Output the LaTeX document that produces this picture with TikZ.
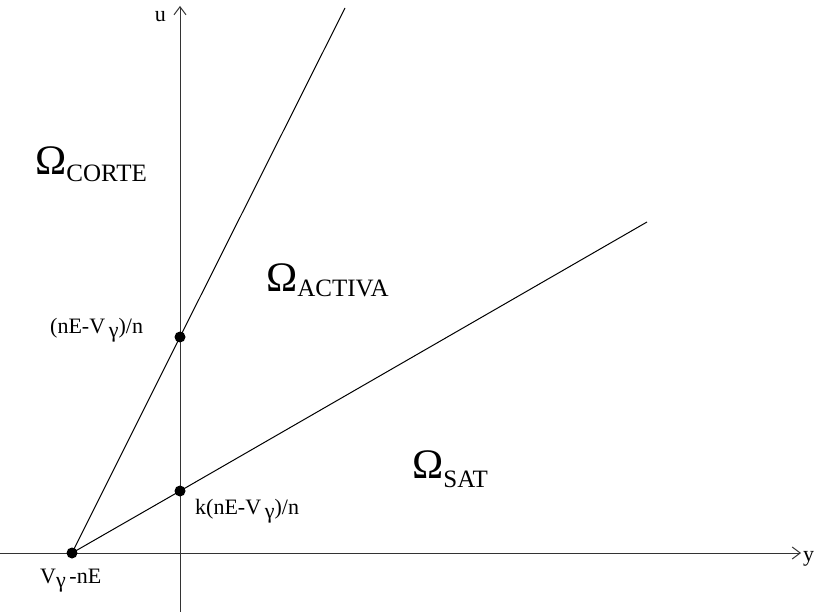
\documentclass[tikz,border=0pt]{standalone}
\usepackage{fontspec}
\setmainfont{Liberation Serif}
\usetikzlibrary{arrows.meta}
\begin{document}
\begin{tikzpicture}[x=1pt,y=-1pt,
  axis/.style={draw=black!80,line width=1pt},
  axisarrow/.style={axis,-{Straight Barb[length=8pt,width=12pt]}},
  region/.style={draw=black,line width=1pt},
  pt/.style={circle,fill=black,inner sep=0pt,minimum size=11pt},
  lbl/.style={inner sep=0pt,anchor=base west,font=\fontsize{22}{24}\selectfont},
  sub/.style={},
  omega/.style={inner sep=0pt,anchor=base west,font=\fontsize{42}{44}\selectfont}]
\useasboundingbox (0,0) rectangle (814,612);
% axes
\coordinate (xs) at (0,553);
\coordinate (xe) at (801,553);
\coordinate (ys) at (180,612);
\coordinate (ye) at (180,6);
\draw[axisarrow] (xs) -- (xe);
\draw[axisarrow] (ys) -- (ye);
\node[lbl] (ylab) at (803,561) {y};
\node[lbl,anchor=base east] (ulab) at (166,22) {u};
% points
\coordinate (V) at (72,553);
\coordinate (P1) at (180,337);
\coordinate (P2) at (180,491);
\coordinate (E1) at (345,8);
\coordinate (E2) at (647,222);
\draw[region] (V) -- (P1) -- (E1);
\draw[region] (V) -- (P2) -- (E2);
\node[pt] (dV) at (V) {};
\node[pt] (d1) at (P1) {};
\node[pt] (d2) at (P2) {};
% labels
\node[lbl] (l1) at (50,334) {(nE-V\,\raisebox{-4pt}{γ})/n};
\node[lbl] (l2) at (195,514) {k(nE-V\,\raisebox{-4pt}{γ})/n};
\node[lbl] (l3) at (40,583) {V\raisebox{-4pt}{γ}\,-nE};
\node[omega] (oc) at (35,175) {Ω\raisebox{-7pt}{\fontsize{25}{26}\selectfont CORTE}};
\node[omega] (oa) at (266,292) {Ω\raisebox{-5pt}{\fontsize{25}{26}\selectfont ACTIVA}};
\node[omega] (os) at (412,478) {Ω\raisebox{-9pt}{\fontsize{25}{26}\selectfont SAT}};
\end{tikzpicture}
\end{document}
